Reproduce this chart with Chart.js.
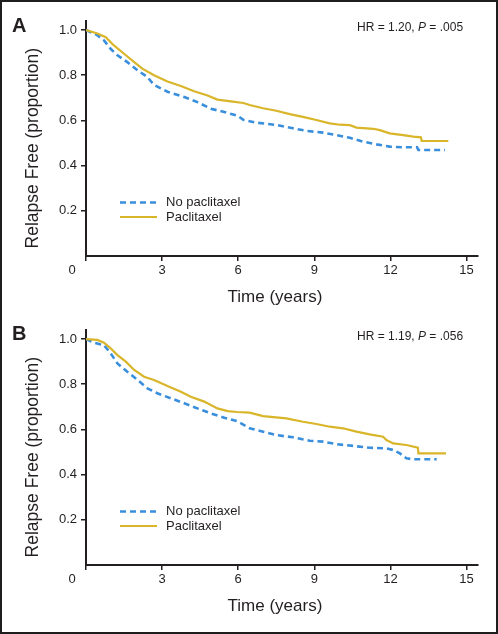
<!DOCTYPE html>
<html><head><meta charset="utf-8">
<script src="https://cdn.jsdelivr.net/npm/chart.js@4.4.1/dist/chart.umd.min.js"></script>
<style>
html,body{margin:0;padding:0;background:#fff;}
#frame{position:absolute;left:0;top:0;width:498px;height:634px;box-sizing:border-box;border:2px solid #1e1e1e;pointer-events:none;z-index:5;}
.panel{position:absolute;left:0;width:498px;height:309px;}
</style></head><body>
<div class="panel" style="top:0"><canvas id="chartA" width="498" height="309"></canvas></div>
<div class="panel" style="top:309px"><canvas id="chartB" width="498" height="309"></canvas></div>
<div id="frame"></div>
<script>
// ---------- data ----------
const seriesLabels = ['No paclitaxel', 'Paclitaxel'];
const xTickValues = [0, 3, 6, 9, 12, 15];
const yTickValues = [0.2, 0.4, 0.6, 0.8, 1.0];
const panelLetters = ['A', 'B'];
const hrValues = ['1.20', '1.19'];
const pValues = ['.005', '.056'];

// Panel A - No paclitaxel
const timeA_no = [0, 0.45, 0.71, 0.97, 1.24, 1.63, 2.03, 2.42, 2.68, 3.21, 3.87, 4.39, 4.92, 5.45, 5.97, 6.2, 6.71, 7.5, 8.16, 8.69, 9.34, 9.87, 10.4, 10.92, 11.45, 11.97, 12.5, 13.05, 13.1, 14.15];
const survA_no = [1.0, 0.977, 0.954, 0.917, 0.888, 0.858, 0.822, 0.792, 0.757, 0.727, 0.704, 0.681, 0.652, 0.637, 0.621, 0.603, 0.590, 0.580, 0.565, 0.554, 0.546, 0.535, 0.523, 0.506, 0.494, 0.484, 0.481, 0.481, 0.469, 0.469];
// Panel A - Paclitaxel
const timeA_pac = [0, 0.45, 0.78, 1.1, 1.5, 1.9, 2.22, 2.68, 3.21, 3.74, 4.26, 4.79, 5.18, 5.71, 6.2, 6.45, 6.98, 7.5, 8.03, 8.55, 9.08, 9.61, 10.0, 10.4, 10.66, 11.32, 11.58, 11.97, 12.5, 12.9, 13.2, 13.23, 14.28];
const survA_pac = [1.0, 0.985, 0.968, 0.932, 0.895, 0.858, 0.829, 0.800, 0.772, 0.752, 0.729, 0.710, 0.692, 0.684, 0.677, 0.668, 0.654, 0.643, 0.628, 0.616, 0.602, 0.587, 0.581, 0.579, 0.568, 0.563, 0.557, 0.543, 0.535, 0.528, 0.525, 0.509, 0.509];
// Panel B - No paclitaxel
const timeB_no = [0, 0.32, 0.71, 0.97, 1.24, 1.63, 2.03, 2.42, 2.81, 3.34, 3.87, 4.39, 4.92, 5.45, 5.97, 6.45, 6.98, 7.5, 8.16, 8.82, 9.34, 9.87, 10.53, 11.18, 11.84, 12.11, 12.37, 12.63, 12.9, 13.82];
const survB_no = [1.0, 0.984, 0.973, 0.937, 0.892, 0.855, 0.819, 0.782, 0.760, 0.738, 0.716, 0.693, 0.671, 0.652, 0.636, 0.605, 0.590, 0.575, 0.565, 0.550, 0.546, 0.535, 0.527, 0.519, 0.516, 0.509, 0.494, 0.472, 0.468, 0.468];
// Panel B - Paclitaxel
const timeB_pac = [0, 0.45, 0.71, 0.97, 1.24, 1.57, 1.9, 2.29, 2.68, 3.21, 3.74, 4.13, 4.66, 5.18, 5.58, 5.95, 6.45, 6.98, 7.9, 8.55, 9.08, 9.61, 10.13, 10.66, 11.18, 11.71, 11.84, 12.11, 12.63, 13.08, 13.1, 14.19];
const survB_pac = [1.0, 0.996, 0.984, 0.959, 0.929, 0.900, 0.863, 0.833, 0.819, 0.792, 0.767, 0.745, 0.723, 0.693, 0.681, 0.677, 0.674, 0.659, 0.649, 0.634, 0.624, 0.612, 0.605, 0.590, 0.578, 0.568, 0.553, 0.538, 0.531, 0.519, 0.494, 0.494];

// ---------- styling ----------
const FONT = '"Liberation Sans", Arial, Helvetica, sans-serif';
const INK = '#231f20';
const BLUE = '#3a8fdc';
const GOLD = '#d9b52a';

function pts(t, v) { return t.map((x, i) => ({x: x, y: v[i]})); }

const annotPlugin = {
  id: 'annot',
  afterDraw(chart, args, o) {
    const ctx = chart.ctx, xs = chart.scales.x;
    ctx.save();
    ctx.fillStyle = INK;
    // origin label "0"
    ctx.font = '13px ' + FONT;
    ctx.textAlign = 'center';
    ctx.textBaseline = 'middle';
    ctx.fillText(String(xTickValues[0]), xs.getPixelForValue(0) - 14, xs.top + 14);
    // panel letter
    ctx.font = 'bold 20px ' + FONT;
    ctx.textAlign = 'left';
    ctx.textBaseline = 'alphabetic';
    ctx.fillText(o.letter, 12, o.letterBase);
    // HR text
    ctx.textBaseline = 'middle';
    let x = 357; const y = 28;
    const parts = [['HR = ' + o.hr + ', ', '12px '], ['P', 'italic 12px '], [' = ' + o.p, '12px ']];
    parts.forEach(([txt, f]) => { ctx.font = f + FONT; ctx.fillText(txt, x, y); x += ctx.measureText(txt).width; });
    // legend
    ctx.font = '13px ' + FONT;
    chart.data.datasets.forEach((ds, i) => {
      const ly = 202.5 + i * 14.5;
      ctx.save();
      ctx.strokeStyle = ds.borderColor;
      ctx.lineWidth = ds.borderWidth;
      ctx.setLineDash(ds.borderDash || []);
      ctx.beginPath(); ctx.moveTo(120, ly); ctx.lineTo(157, ly); ctx.stroke();
      ctx.restore();
      ctx.fillStyle = INK;
      ctx.fillText(ds.label, 166, ly);
    });
    ctx.restore();
  }
};

function makeChart(id, idx, noPts, pacPts, letterBase) {
  return new Chart(document.getElementById(id), {
    type: 'line',
    data: {
      datasets: [
        {label: seriesLabels[0], data: noPts, borderColor: BLUE, borderWidth: 2.6, borderDash: [6, 4], pointRadius: 0, tension: 0, fill: false, order: 2},
        {label: seriesLabels[1], data: pacPts, borderColor: GOLD, borderWidth: 2.2, pointRadius: 0, tension: 0, fill: false, order: 1}
      ]
    },
    options: {
      responsive: false,
      animation: false,
      devicePixelRatio: 1,
      layout: {padding: {left: 0, top: 21, right: 20, bottom: 0}},
      plugins: {
        legend: {display: false},
        tooltip: {enabled: false},
        annot: {letter: panelLetters[idx], hr: hrValues[idx], p: pValues[idx], letterBase: letterBase}
      },
      scales: {
        x: {
          type: 'linear', min: 0, max: 15.45,
          afterBuildTicks: s => { s.ticks = xTickValues.map(v => ({value: v})); },
          afterFit: s => { s.height = 53; },
          ticks: {font: {family: FONT, size: 13}, color: INK, padding: 2, maxRotation: 0,
            callback: v => (v === 0 ? '' : String(v))},
          grid: {drawOnChartArea: false, drawTicks: true, tickLength: 5, color: INK, lineWidth: 1.5},
          border: {display: true, color: INK, width: 2},
          title: {display: true, text: 'Time (years)   ', color: INK, font: {family: FONT, size: 17}, padding: {top: 0, bottom: 1}}
        },
        y: {
          type: 'linear', min: 0, max: 1.04,
          afterBuildTicks: s => { s.ticks = yTickValues.map(v => ({value: v})); },
          afterFit: s => { s.width = 86; },
          ticks: {font: {family: FONT, size: 13}, color: INK, padding: 4,
            callback: v => Number(v).toFixed(1)},
          grid: {drawOnChartArea: false, drawTicks: true, tickLength: 5, color: INK, lineWidth: 1.5},
          border: {display: true, color: INK, width: 2},
          title: {display: true, text: 'Relapse Free (proportion)    ', color: INK, font: {family: FONT, size: 17.5}, padding: {top: 23, bottom: 0}}
        }
      }
    },
    plugins: [annotPlugin]
  });
}

makeChart('chartA', 0, pts(timeA_no, survA_no), pts(timeA_pac, survA_pac), 32);
makeChart('chartB', 1, pts(timeB_no, survB_no), pts(timeB_pac, survB_pac), 30.5);
</script>
</body></html>
